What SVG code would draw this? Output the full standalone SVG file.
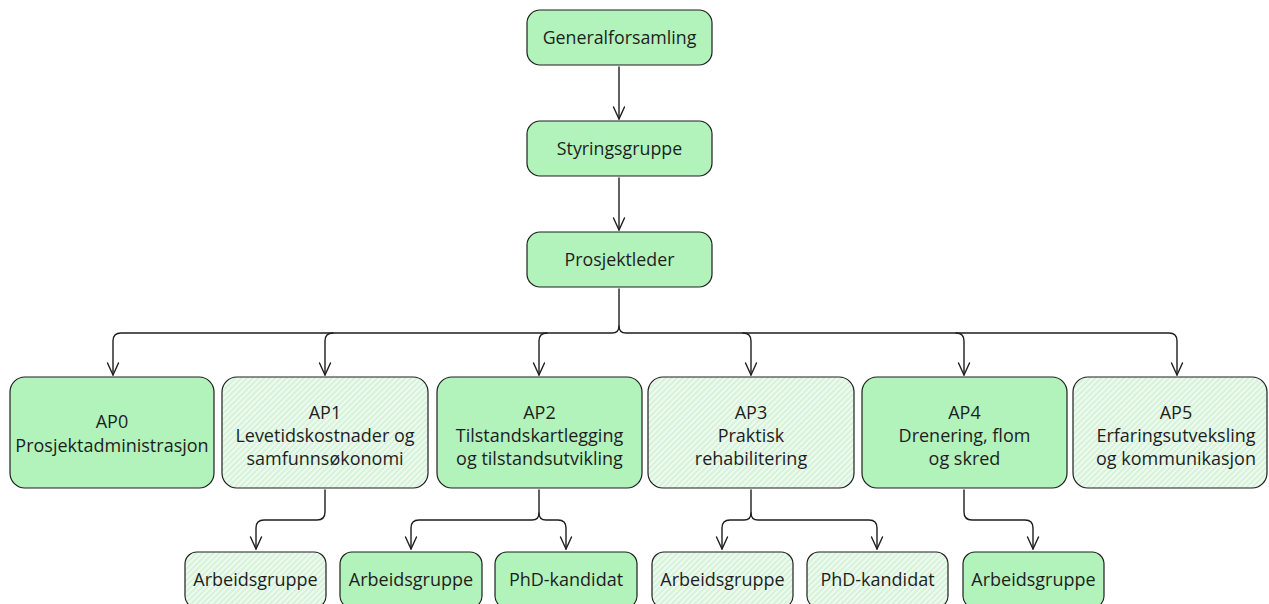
<svg xmlns="http://www.w3.org/2000/svg" width="1269" height="604" viewBox="0 0 1269 604">
<defs>
<pattern id="hach" patternUnits="userSpaceOnUse" width="4" height="4" patternTransform="rotate(-45)">
<rect width="4" height="4" fill="#eefaf0"/>
<line x1="0" y1="2" x2="4" y2="2" stroke="#c6efcb" stroke-width="1.2"/>
</pattern>
<marker id="arr" viewBox="0 0 14 14" refX="13" refY="7" markerWidth="14" markerHeight="14" markerUnits="userSpaceOnUse" orient="auto">
<path d="M1,1.5 L13,7 L1,12.5" fill="none" stroke="#1e1e1e" stroke-width="1.4" stroke-linecap="round" stroke-linejoin="round"/>
</marker>
</defs>
<style>
.solid{fill:#b2f2bb;stroke:#1e1e1e;stroke-width:1.2}
.light{fill:url(#hach);stroke:#1e1e1e;stroke-width:1.2}
text{font-family:"Open Sans","Noto Sans","Liberation Sans",sans-serif;fill:#1e1e1e;text-anchor:middle}
.t{font-size:17.8px}
.ap{font-size:18px}
.sub{font-size:18px}
.c{fill:none;stroke:#1e1e1e;stroke-width:1.4;stroke-linecap:round;stroke-linejoin:round}
</style>
<rect width="1269" height="604" fill="#ffffff"/>
<g id="connectors">
<path class="c" d="M619,67 V119" marker-end="url(#arr)"/>
<path class="c" d="M619,178 V230" marker-end="url(#arr)"/>
<path class="c" d="M619,289 V326 Q619,333 612,333 H121 Q113,333 113,341 V375" marker-end="url(#arr)"/>
<path class="c" d="M619,326 Q619,333 626,333 H1169 Q1177,333 1177,341 V375" marker-end="url(#arr)"/>
<path class="c" d="M333,333 Q325,333 325,341 V375" marker-end="url(#arr)"/>
<path class="c" d="M547,333 Q539,333 539,341 V375" marker-end="url(#arr)"/>
<path class="c" d="M743,333 Q751,333 751,341 V375" marker-end="url(#arr)"/>
<path class="c" d="M956,333 Q964,333 964,341 V375" marker-end="url(#arr)"/>
<path class="c" d="M325,490 V512 Q325,520 317,520 H264 Q256,520 256,528 V549" marker-end="url(#arr)"/>
<path class="c" d="M539,490 V513 Q539,520 532,520 H419 Q411,520 411,528 V549" marker-end="url(#arr)"/>
<path class="c" d="M539,513 Q539,520 546,520 H558 Q566,520 566,528 V549" marker-end="url(#arr)"/>
<path class="c" d="M751,490 V513 Q751,520 744,520 H730 Q722,520 722,528 V549" marker-end="url(#arr)"/>
<path class="c" d="M751,513 Q751,520 758,520 H869 Q877,520 877,528 V549" marker-end="url(#arr)"/>
<path class="c" d="M964,490 V512 Q964,520 972,520 H1025 Q1033,520 1033,528 V549" marker-end="url(#arr)"/>
</g>
<g id="generalforsamling">
<rect class="solid" x="527" y="10" width="185" height="55" rx="13"/>
<text class="t" x="619.5" y="44">Generalforsamling</text>
</g>
<g id="styringsgruppe">
<rect class="solid" x="527" y="121" width="185" height="55" rx="13"/>
<text class="t" x="619.5" y="155">Styringsgruppe</text>
</g>
<g id="prosjektleder">
<rect class="solid" x="527" y="232" width="185" height="55" rx="13"/>
<text class="t" x="619.5" y="266">Prosjektleder</text>
</g>
<g id="ap0">
<rect class="solid" x="10" y="377" width="204" height="111" rx="15"/>
<text class="ap" x="112" y="428">AP0</text>
<text class="ap" x="112" y="452">Prosjektadministrasjon</text>
</g>
<g id="ap1">
<rect class="light" x="222" y="377" width="206" height="111" rx="15"/>
<text class="ap" x="325" y="419">AP1</text>
<text class="ap" x="325" y="442">Levetidskostnader og</text>
<text class="ap" x="325" y="465">samfunnsøkonomi</text>
</g>
<g id="ap2">
<rect class="solid" x="437" y="377" width="205" height="111" rx="15"/>
<text class="ap" x="539.5" y="419">AP2</text>
<text class="ap" x="539.5" y="442">Tilstandskartlegging</text>
<text class="ap" x="539.5" y="465">og tilstandsutvikling</text>
</g>
<g id="ap3">
<rect class="light" x="648" y="377" width="206" height="111" rx="15"/>
<text class="ap" x="751" y="419">AP3</text>
<text class="ap" x="751" y="442">Praktisk</text>
<text class="ap" x="751" y="465">rehabilitering</text>
</g>
<g id="ap4">
<rect class="solid" x="862" y="377" width="205" height="111" rx="15"/>
<text class="ap" x="964.5" y="419">AP4</text>
<text class="ap" x="964.5" y="442">Drenering, flom</text>
<text class="ap" x="964.5" y="465">og skred</text>
</g>
<g id="ap5">
<rect class="light" x="1073" y="377" width="194" height="111" rx="15"/>
<text class="ap" x="1176" y="419">AP5</text>
<text class="ap" x="1176" y="442">Erfaringsutveksling</text>
<text class="ap" x="1176" y="465">og kommunikasjon</text>
</g>
<g id="ap1-arbeidsgruppe">
<rect class="light" x="185" y="552" width="141" height="56" rx="12"/>
<text class="sub" x="255.5" y="586">Arbeidsgruppe</text>
</g>
<g id="ap2-arbeidsgruppe">
<rect class="solid" x="340" y="552" width="142" height="56" rx="12"/>
<text class="sub" x="411" y="586">Arbeidsgruppe</text>
</g>
<g id="ap2-phd">
<rect class="solid" x="495" y="552" width="142" height="56" rx="12"/>
<text class="sub" x="566" y="586">PhD-kandidat</text>
</g>
<g id="ap3-arbeidsgruppe">
<rect class="light" x="652" y="552" width="141" height="56" rx="12"/>
<text class="sub" x="722.5" y="586">Arbeidsgruppe</text>
</g>
<g id="ap3-phd">
<rect class="light" x="807" y="552" width="141" height="56" rx="12"/>
<text class="sub" x="877.5" y="586">PhD-kandidat</text>
</g>
<g id="ap4-arbeidsgruppe">
<rect class="solid" x="963" y="552" width="141" height="56" rx="12"/>
<text class="sub" x="1033.5" y="586">Arbeidsgruppe</text>
</g>
</svg>
